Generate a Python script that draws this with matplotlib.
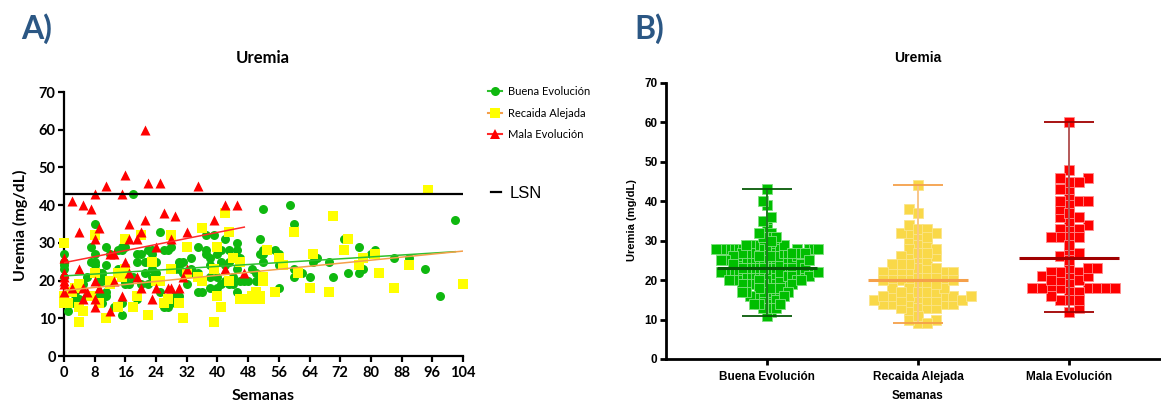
import numpy as np
import matplotlib
matplotlib.use("Agg")
import matplotlib.pyplot as plt
from matplotlib.lines import Line2D

# ---- datos (semana, uremia mg/dL) ----
buena = [(18,43),(0,27),(0,25),(0,24),(0,23),(0,21),(1,12),(3,15),(4,19),(6,21),(7,29),(8,35),
         (8,27),(8,25),(7,25),(9,22),(9,16),(10,22),(10,20),(10,14),(11,29),(11,24),(11,16),(11,17),
         (14,28),(15,29),(15,28),(14,23),(15,11),(16,21),(17,19),(19,27),(19,25),(19,15),(21,25),
         (22,28),(23,27),(22,19),(23,23),(23,21),(25,33),(26,28),(28,29),(25,17),(26,13),(27,13),
         (29,23),(30,25),(30,23),(29,16),(32,19),(33,26),(35,29),(35,17),(37,28),(37,27),(37,32),
         (38,26),(38,24),(38,21),(38,18),(41,28),(41,25),(42,24),(41,19),(44,21),(45,23),(45,28),
         (46,26),(46,25),(43,19),(44,19),(46,20),(48,20),
         (52,39),(59,40),(60,35),(51,31),(52,28),(51,27),(52,27),(52,25),(55,28),(56,27),(56,24),
         (60,23),(60,21),(62,22),(64,21),(65,25),(66,26),(69,25),(70,21),(73,31),(77,29),(74,22),
         (77,22),(78,23),(80,27),(81,28),(86,26),(90,26),(94,23),(98,16),(102,36),(56,18),(49,23),
         (50,20),
         (2,14),(4,15),(5,19),(6,16),(12,27),(16,29),(10,21),(15,22),(16,20),(16,19),(18,21),(20,19),
         (21,22),(20,27),(22,25),(23,28),(39,32),(42,31),(45,30),(27,28),(31,25),(30,24),(31,22),
         (33,23),(34,22),(35,22),(40,27),(43,28),(43,25),(40,21),(42,20),(47,20),(36,17),(40,18),
         (45,17),(28,14),(30,16),(50,22),(24,25),(24,22),(13,13),(15,14),(3,17),(8,24),(9,20)]

recaida = [(0,30),(0,14),(0,15),(1,14),(4,9),(5,12),(4,13),(4,19),(7,16),(8,32),(8,22),(9,14),
           (11,10),(12,20),(14,13),(14,22),(15,21),(15,22),(16,31),(18,13),(19,16),(20,32),(22,11),
           (23,25),(24,20),(26,14),(27,15),(28,32),(28,23),(30,14),(31,10),(32,29),(32,22),(36,34),
           (35,21),(36,20),(39,23),(39,9),(40,29),(40,16),(41,13),(42,38),(43,33),(43,20),(44,26),
           (46,25),(46,15),(48,15),(49,16),(49,15),
           (95,44),(70,37),(60,33),(74,31),(53,28),(56,26),(57,24),(65,27),(73,28),(78,26),(81,27),
           (77,24),(90,24),(61,22),(82,22),(64,18),(69,17),(86,18),(104,19),(55,17),(52,21),(52,20),
           (50,17),(51,16),(51,15),
           (0,16),(2,17),(3,18),(12,19),(16,23),(25,20)]

mala = [(2,41),(5,40),(7,39),(8,43),(11,45),(15,43),(4,33),(9,34),(17,35),(21,36),(20,33),(21,60),
        (16,48),(22,46),(25,46),(26,38),(29,37),(35,45),(32,33),(39,36),(42,40),(45,40),(0,26),
        (8,31),(17,31),(19,31),(28,31),(12,27),(13,27),(24,29),(0,22),(0,21),(0,19),(0,17),(4,23),
        (2,18),(5,18),(5,15),(6,17),(8,20),(9,18),(8,15),(8,13),(13,20),(12,12),(15,16),(16,25),
        (17,22),(19,21),(20,18),(23,15),(24,18),(27,18),(28,18),(30,18),(31,21),(32,23),(42,23),
        (47,22),(0,20)]

grupos = ["Buena Evolución", "Recaida Alejada", "Mala Evolución"]
lsn = 43

datos = [np.array(buena, float), np.array(recaida, float), np.array(mala, float)]

# estilos
c_pts_a = ["#0FB80F", "#FFFF00", "#FF0000"]
c_fit = ["#2EC02E", "#F5A04A", "#FF2A2A"]
mk_a = ["o", "s", "^"]
sz_a = [42, 50, 52]

c_pts_b = ["#00BE00", "#F9D848", "#FF0000"]
c_edge_b = ["#7EE07E", "#FBE58A", "#FF8A8A"]
c_med = ["#075A07", "#F5A04A", "#A00000"]
c_rng = ["#1F7A1F", "#F8C688", "#B45858"]
paso_b = [0.028, 0.058, 0.061]


def swarm(v, paso, hmin=1.5):
    # reparto tipo "scatter dot plot": huecos horizontales en rejilla
    off = np.zeros(len(v))
    slots = {}
    lado = 1
    for j in np.argsort(v, kind="stable"):
        for a in range(0, 60):
            cands = [0] if a == 0 else [lado * a, -lado * a]
            ok = None
            for k in cands:
                if all(abs(v[j] - u) >= hmin for u in slots.get(k, [])):
                    ok = k
                    break
            if ok is not None:
                slots.setdefault(ok, []).append(v[j])
                off[j] = ok * paso
                if ok != 0:
                    lado = -lado
                break
    return off


fig = plt.figure(figsize=(11.61, 4.03), dpi=100)

# ================= A =================
ax = fig.add_axes([0.0551, 0.1166, 0.3437, 0.6551])
for i, d in enumerate(datos):
    ax.scatter(d[:, 0], d[:, 1], s=sz_a[i], marker=mk_a[i], color=c_pts_a[i],
               linewidths=0, clip_on=False, zorder=3 + i)
for i, d in enumerate(datos):
    b, a = np.polyfit(d[:, 0], d[:, 1], 1)
    xx = np.array([d[:, 0].min(), d[:, 0].max()])
    ax.plot(xx, a + b * xx, color=c_fit[i], lw=1.1, zorder=6)
ax.axhline(lsn, color="black", lw=1.6, zorder=7)

ax.set_xlim(0, 104)
ax.set_ylim(0, 70)
ax.set_xticks(np.arange(0, 105, 8))
ax.set_yticks(np.arange(0, 71, 10))
for s in ["top", "right"]:
    ax.spines[s].set_visible(False)
for s in ["left", "bottom"]:
    ax.spines[s].set_linewidth(1.6)
ax.tick_params(width=1.6, length=4, labelsize=10.5, pad=2)
ax.tick_params(axis="x", pad=3)
for t in ax.get_xticklabels() + ax.get_yticklabels():
    t.set_fontfamily("Lato")
    t.set_fontweight("bold")

fig.text(263 / 1161, 1 - 58 / 403, "Uremia", fontfamily="Lato", fontweight="bold",
         fontsize=12, ha="center", va="center")
fig.text(20 / 1161, 1 - 225 / 403, "Uremia (mg/dL)", fontfamily="Lato", fontweight="bold",
         fontsize=11.5, rotation=90, ha="center", va="center")
fig.text(263 / 1161, 1 - 396 / 403, "Semanas", fontfamily="Lato", fontweight="bold",
         fontsize=11.5, ha="center", va="center")
fig.text(37 / 1161, 1 - 29 / 403, "A)", fontfamily="Lato", fontweight="bold",
         fontsize=23, color="#2B5784", ha="center", va="center")

handles = [Line2D([], [], color=c_fit[i], lw=1.5, marker=mk_a[i], markersize=6.5,
                  markerfacecolor=c_pts_a[i], markeredgewidth=0) for i in range(3)]
leg = fig.legend(handles, grupos, loc="upper left", bbox_to_anchor=(478 / 1161, 1 - 76 / 403),
                 frameon=False, handlelength=1.3, handletextpad=0.5, labelspacing=0.95,
                 prop={"family": "Lato", "size": 8})
leg2 = fig.legend([Line2D([], [], color="black", lw=1.6)], ["LSN"], loc="center left",
                  bbox_to_anchor=(476 / 1161, 1 - 193 / 403), frameon=False,
                  handlelength=0.6, handletextpad=0.5,
                  prop={"family": "Liberation Sans", "size": 12})

# ================= B =================
bx = fig.add_axes([0.5736, 0.1092, 0.4255, 0.685])
for i, d in enumerate(datos):
    v = d[:, 1]
    off = swarm(v, paso_b[i])
    bx.scatter(i + off, v, marker="s", s=44, color=c_pts_b[i], edgecolors=c_edge_b[i],
               linewidths=0.6, zorder=3)
    med = np.median(v)
    bx.vlines(i, v.min(), v.max(), color=c_rng[i], lw=1.4, zorder=4)
    bx.hlines([v.min(), v.max()], i - 0.165, i + 0.165, color=c_med[i], lw=1.3, zorder=4)
    bx.hlines(med, i - 0.33, i + 0.33, color=c_med[i], lw=2.2, zorder=5)

bx.set_xlim(-0.669, 2.6)
bx.set_ylim(0, 70)
bx.set_yticks(np.arange(0, 71, 10))
bx.set_xticks(range(3))
bx.set_xticklabels(grupos)
for s in ["top", "right"]:
    bx.spines[s].set_visible(False)
for s in ["left", "bottom"]:
    bx.spines[s].set_linewidth(2)
bx.tick_params(width=2, length=4, labelsize=8.5, pad=2)
bx.tick_params(axis="x", pad=5)
for t in bx.get_xticklabels() + bx.get_yticklabels():
    t.set_fontfamily("Liberation Sans")
    t.set_fontweight("bold")

fig.text(918 / 1161, 1 - 58 / 403, "Uremia", fontfamily="Liberation Sans", fontweight="bold",
         fontsize=10, ha="center", va="center")
fig.text(632 / 1161, 1 - 220 / 403, "Uremia (mg/dL)", fontfamily="Liberation Sans",
         fontweight="bold", fontsize=8, rotation=90, ha="center", va="center")
fig.text(918 / 1161, 1 - 396 / 403, "Semanas", fontfamily="Liberation Sans", fontweight="bold",
         fontsize=8.5, ha="center", va="center")
fig.text(649 / 1161, 1 - 29 / 403, "B)", fontfamily="Lato", fontweight="bold",
         fontsize=23, color="#2B5784", ha="center", va="center")

fig.savefig("out.png", dpi=100)
